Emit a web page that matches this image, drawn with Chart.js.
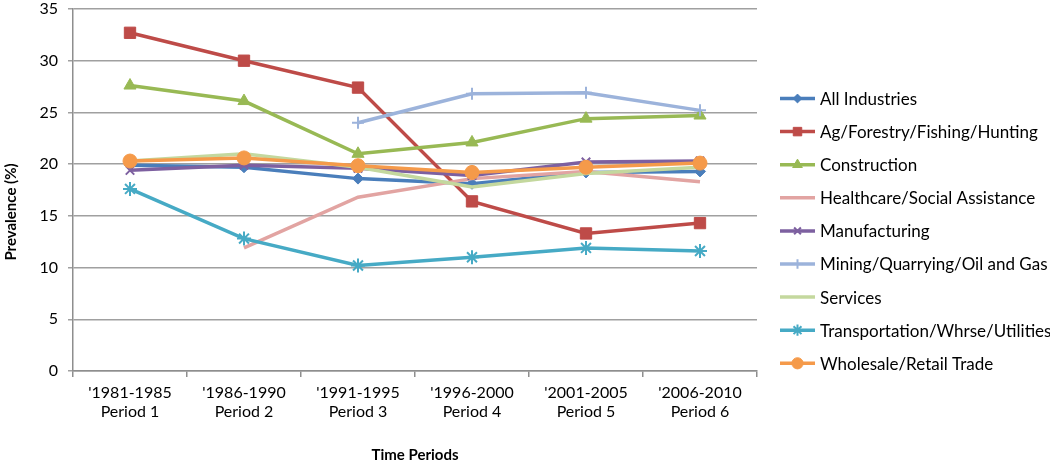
<!DOCTYPE html>
<html>
<head>
<meta charset="utf-8">
<script src="https://cdn.jsdelivr.net/npm/chart.js@4.4.1/dist/chart.umd.min.js"></script>
<style>
html,body{margin:0;padding:0;background:#fff;}
#wrap{width:1050px;height:461px;position:relative;}
</style>
</head>
<body>
<div id="wrap"><canvas id="c" width="1050" height="461"></canvas></div>
<script>
const categories = [["'1981-1985","Period 1"],["'1986-1990","Period 2"],["'1991-1995","Period 3"],["'1996-2000","Period 4"],["'2001-2005","Period 5"],["'2006-2010","Period 6"]];
const seriesNames = ["All Industries","Ag/Forestry/Fishing/Hunting","Construction","Healthcare/Social Assistance","Manufacturing","Mining/Quarrying/Oil and Gas","Services","Transportation/Whrse/Utilities","Wholesale/Retail Trade"];
const allIndustries = [19.9, 19.7, 18.6, 18.1, 19.2, 19.3];
const agForestry = [32.7, 30.0, 27.4, 16.4, 13.3, 14.3];
const construction = [27.6, 26.1, 21.0, 22.1, 24.4, 24.7];
const healthcare = [null, 11.9, 16.8, 18.6, 19.3, 18.3];
const manufacturing = [19.4, 19.9, 19.6, 18.9, 20.2, 20.3];
const mining = [null, null, 24.0, 26.8, 26.9, 25.2];
const services = [20.3, 21.0, 19.7, 17.8, 19.1, 19.7];
const transportation = [17.6, 12.8, 10.2, 11.0, 11.9, 11.6];
const wholesale = [20.3, 20.6, 19.85, 19.2, 19.7, 20.1];
const yTicks = [0,5,10,15,20,25,30,35];

const seriesData = [allIndustries, agForestry, construction, healthcare, manufacturing, mining, services, transportation, wholesale];
const colors = ['#4A7EBB','#BE4B48','#98B954','#E2A4A2','#7D60A0','#9CB3DB','#C4D89E','#46AAC5','#F59A4A'];
const styles = ['rectRot','rect','triangle',false,'crossRot','cross',false,'star','circle'];
const radii = [5.5,8,7,0,6,6,0,7,7];

const FONT = 'Lato, "Open Sans", sans-serif';

const datasets = seriesNames.map((n,i)=>({
  label:n,
  data:seriesData[i],
  order:seriesNames.length - i,
  borderColor:colors[i],
  backgroundColor:colors[i],
  borderWidth:3.5,
  tension:0,
  pointStyle:styles[i],
  pointRadius:radii[i],
  pointHoverRadius:radii[i],
  pointBorderWidth:(styles[i]==='cross'||styles[i]==='crossRot'||styles[i]==='star')?2:1,
  pointBorderColor:colors[i],
  pointBackgroundColor:colors[i],
  spanGaps:false
}));

const legendPlugin = {
  id:'customLegend',
  afterDraw(chart){
    const ctx = chart.ctx;
    ctx.save();
    chart.data.datasets.forEach((ds,i)=>{
      const y = 98.5 + i*33.1;
      const x0 = 780, x1 = 815;
      ctx.strokeStyle = ds.borderColor;
      ctx.lineWidth = 3.5;
      ctx.beginPath(); ctx.moveTo(x0,y); ctx.lineTo(x1,y); ctx.stroke();
      if (ds.pointStyle) {
        ctx.fillStyle = ds.backgroundColor;
        ctx.strokeStyle = ds.borderColor;
        ctx.lineWidth = ds.pointBorderWidth;
        Chart.helpers.drawPoint(ctx,{pointStyle:ds.pointStyle,radius:Math.min(ds.pointRadius*0.8,6),borderWidth:ds.pointBorderWidth,rotation:0},(x0+x1)/2,y);
      }
      ctx.fillStyle = '#000';
      ctx.font = '17px ' + FONT;
      ctx.textBaseline = 'middle';
      ctx.textAlign = 'left';
      ctx.fillText(ds.label, 820, y+1);
    });
    // y axis title
    ctx.translate(11, 212);
    ctx.rotate(-Math.PI/2);
    ctx.font = 'bold 15px ' + FONT;
    ctx.textAlign = 'center';
    ctx.textBaseline = 'middle';
    ctx.fillStyle = '#000';
    ctx.fillText('Prevalence (%)', 0, 0);
    ctx.restore();
  }
};

new Chart(document.getElementById('c'), {
  type:'line',
  data:{labels:categories, datasets:datasets},
  options:{
    responsive:false,
    animation:false,
    devicePixelRatio:1,
    layout:{padding:{top:5,right:293,left:0,bottom:0}},
    plugins:{legend:{display:false},tooltip:{enabled:false}},
    scales:{
      x:{
        offset:true,
        grid:{display:true,offset:true,drawOnChartArea:false,drawTicks:true,tickLength:6,color:'#8E8E8E',lineWidth:1.5},
        border:{display:true,color:'#8E8E8E',width:1.5},
        ticks:{color:'#000',font:{family:FONT,size:16},padding:6,maxRotation:0,autoSkip:false},
        title:{display:true,text:'Time Periods',color:'#000',font:{family:FONT,size:15,weight:'bold'},padding:{top:14,bottom:-3}},
        afterFit(s){ s.height = 90; s.paddingLeft = 0; s.paddingRight = 0; }
      },
      y:{
        min:0,max:35,
        afterBuildTicks(s){ s.ticks = yTicks.map(v=>({value:v})); },
        grid:{color:'#A0A0A0',lineWidth:1.5,drawTicks:true,tickLength:5},
        border:{display:true,color:'#8E8E8E',width:1.5},
        ticks:{color:'#000',font:{family:FONT,size:16},padding:10},
        afterFit(s){ s.width = 73; s.paddingTop = 0; s.paddingBottom = 0; }
      }
    }
  },
  plugins:[legendPlugin]
});
</script>
</body>
</html>
